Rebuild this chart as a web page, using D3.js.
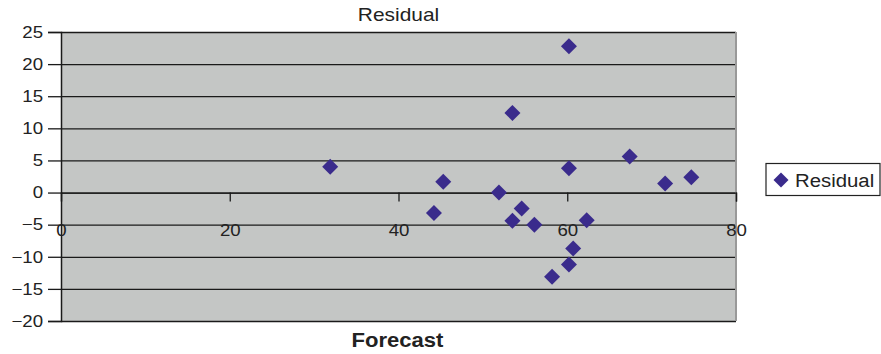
<!DOCTYPE html>
<html><head><meta charset="utf-8">
<script src="https://cdn.jsdelivr.net/npm/d3@7"></script>
<style>body{margin:0;background:#fff}svg{display:block;font-family:"Liberation Sans",Arial,sans-serif}</style>
</head><body><svg id="c" width="881" height="354"></svg>
<script>
const forecast = [31.9,45.3,44.2,51.9,53.5,53.5,54.6,56.1,60.2,60.2,60.7,60.2,58.2,62.3,67.4,71.6,74.7];
const residual = [4.0,1.7,-3.2,0.0,12.4,-4.4,-2.5,-5.0,22.8,3.8,-8.7,-11.2,-13.1,-4.3,5.6,1.4,2.4];
const xTicks = [0,20,40,60,80];
const yTicks = [25,20,15,10,5,0,-5,-10,-15,-20];
const title = "Residual", xTitle = "Forecast", seriesName = "Residual";

const svg = d3.select("#c");
const L=61, R=736, T=32, B=321;
const x = d3.scaleLinear().domain([0,80]).range([L,R]);
const y = d3.scaleLinear().domain([-20,25]).range([B,T]);
const fmt = v => v<0 ? "\u2212"+Math.abs(v) : String(v);
const col = "#3a2b8c";
const FF = "Liberation Sans, Arial, sans-serif";

svg.append("rect").attr("x",L).attr("y",T).attr("width",R-L).attr("height",B-T).attr("fill","#c4c6c5");
svg.append("g").selectAll("line").data(yTicks).join("line")
  .attr("x1",L).attr("x2",R).attr("y1",d=>y(d)+0.5).attr("y2",d=>y(d)+0.5)
  .attr("stroke","#1a1a1a").attr("stroke-width",1.3);
svg.append("line").attr("x1",R).attr("x2",R).attr("y1",T).attr("y2",B).attr("stroke","#999").attr("stroke-width",2);
const ya = svg.append("g").attr("transform",`translate(${L},0)`)
  .call(d3.axisLeft(y).tickValues(yTicks).tickFormat(fmt).tickSize(13).tickPadding(5));
ya.select(".domain").attr("stroke","#1a1a1a").attr("stroke-width",1.5);
ya.selectAll(".tick line").attr("stroke","#1a1a1a").attr("stroke-width",1.3);
ya.selectAll("text").attr("font-size",16.5).attr("fill","#222").style("font-family",FF);
const xa = svg.append("g").attr("transform",`translate(0,${y(0)})`)
  .call(d3.axisBottom(x).tickValues(xTicks).tickFormat(fmt).tickSize(9).tickPadding(23));
xa.select(".domain").attr("stroke","#1a1a1a").attr("stroke-width",1.3);
xa.selectAll(".tick line").attr("stroke","#1a1a1a").attr("stroke-width",1.3);
xa.selectAll("text").attr("font-size",16.5).attr("fill","#222").style("font-family",FF);
const s = 8;
svg.append("g").selectAll("path").data(forecast.map((f,i)=>[f,residual[i]])).join("path")
  .attr("transform",d=>`translate(${x(d[0])},${y(d[1])})`)
  .attr("d",`M0,${-s}L${s},0L0,${s}L${-s},0Z`).attr("fill",col);
svg.append("text").attr("x",398.5).attr("y",20.5).attr("text-anchor","middle").attr("font-size",18.5).attr("fill","#222").text(title);
svg.append("text").attr("x",397.5).attr("y",347).attr("text-anchor","middle").attr("font-size",19.5).attr("font-weight","bold").attr("fill","#222").text(xTitle);
const lg = svg.append("g");
lg.append("rect").attr("x",766).attr("y",163.5).attr("width",114).attr("height",32).attr("fill","#fff").attr("stroke","#222").attr("stroke-width",1.2);
lg.append("path").attr("transform","translate(781,180)").attr("d",`M0,-7.5L7.5,0L0,7.5L-7.5,0Z`).attr("fill",col);
lg.append("text").attr("x",795).attr("y",186.5).attr("font-size",18).attr("fill","#222").text(seriesName);
// reference text is slightly stretched horizontally
svg.selectAll("text").each(function(){
  const w = this.getComputedTextLength();
  d3.select(this).attr("textLength", w*1.13).attr("lengthAdjust","spacingAndGlyphs");
});
</script></body></html>
